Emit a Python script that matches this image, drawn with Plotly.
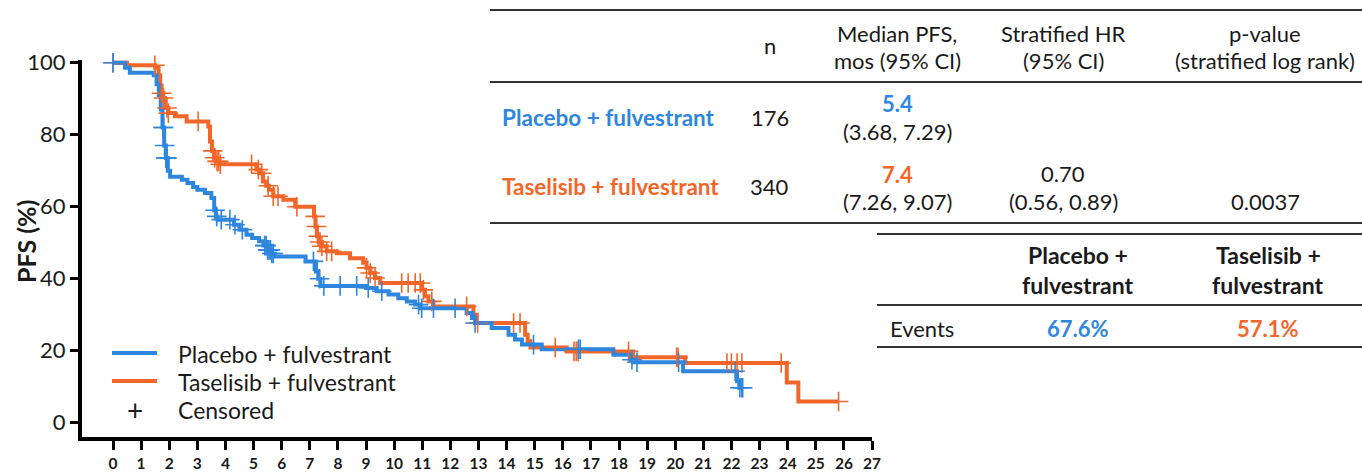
import numpy as np
import plotly.graph_objects as go

# ---------------- data ----------------
placebo_time = [0, 0.43, 0.6, 1.45, 1.55, 1.63, 1.7, 1.76, 1.82, 1.88, 1.95, 2.03, 2.45, 2.65,
                2.85, 3.0, 3.27, 3.5, 3.6, 3.66, 3.72, 4.3, 4.5, 4.75, 4.95, 5.2, 5.35, 5.5,
                5.62, 5.75, 6.85, 7.22, 7.3, 7.38, 9.0, 9.38, 9.8, 10.15, 10.45, 10.75, 10.93,
                12.58, 12.77, 12.88, 13.47, 14.07, 14.3, 14.55, 15.25, 17.8, 18.4, 18.5, 20.28,
                22.2, 22.28]
placebo_surv = [100, 98.6, 97.2, 96.5, 94, 91, 87, 82, 77, 73.5, 70, 68.3, 67.5, 66.6,
                65.5, 64.7, 63.8, 62.4, 59, 57.3, 56.4, 55, 53.6, 52.2, 51.3, 50.4, 49.2, 48,
                47, 46.2, 44.8, 42, 40, 38, 37.4, 36.5, 35.6, 34.6, 33.7, 32.8, 31.8,
                30.5, 29.1, 27.7, 26.3, 24.4, 23.1, 21.7, 20.4, 18.9, 17.5, 16.8, 14.3,
                11.5, 9.7]
placebo_censor = [0.0, 1.78, 1.8, 1.84, 1.88, 1.92, 3.63, 3.69, 3.85, 4.16, 4.34, 4.6, 5.4,
                  5.45, 5.5, 5.55, 5.6, 5.65, 5.7, 7.13, 7.35, 7.5, 8.08, 8.67, 9.08, 9.56,
                  10.87, 10.98, 11.4, 12.17, 12.88, 14.96, 16.56, 16.62, 18.46, 18.64, 20.12,
                  22.13, 22.3, 22.37, 22.4]

tas_time = [0, 0.5, 1.5, 1.62, 1.68, 1.73, 1.79, 1.85, 1.97, 2.2, 2.62, 3.39, 3.45, 3.52, 3.6,
            3.69, 3.8, 5.1, 5.2, 5.34, 5.45, 5.55, 5.7, 6.06, 6.48, 7.15, 7.2, 7.25, 7.32,
            7.43, 7.6, 7.96, 8.43, 8.9, 9.02, 9.15, 9.32, 9.5, 10.98, 11.1, 11.22, 11.4,
            12.82, 12.94, 14.66, 14.75, 14.85, 16.14, 18.5, 20.36, 23.97, 24.38]
tas_surv = [100, 99.3, 98.6, 96.5, 93.6, 91.5, 90.2, 87.4, 86, 85.1, 83.7, 82.3, 78.1, 75.5, 73.6,
            72.6, 71.8, 70.3, 69.3, 67, 65.8, 64.7, 62.9, 61.9, 60, 57.3, 54.5, 51.8, 50.2,
            49, 47.6, 47.1, 45.7, 44.4, 43, 41.6, 40.2, 38.8, 36.9, 35.1, 33.7, 32.3,
            30, 27.7, 24.4, 22.6, 20.9, 19.8, 18.2, 16.6, 11.2, 5.9]
tas_censor = [0.0, 1.49, 1.73, 1.8, 1.92, 1.97, 3.03, 3.55, 3.62, 3.7, 3.76, 3.82, 4.93, 5.17,
              5.29, 5.52, 5.7, 5.87, 6.54, 7.19, 7.24, 7.3, 7.36, 7.43, 7.6, 7.78, 9.02, 9.15,
              9.32, 10.27, 10.5, 10.75, 10.93, 11.04, 11.34, 12.58, 12.97, 14.25, 14.48, 15.73,
              16.4, 16.48, 16.55, 18.34, 20.05, 20.1, 21.84, 22.0, 22.2, 22.37, 23.77, 25.81]

arm_names = ["Placebo + fulvestrant", "Taselisib + fulvestrant"]
x_ticks = list(range(0, 28))
y_ticks = [0, 20, 40, 60, 80, 100]

header_cols = [["n"], ["Median PFS,", "mos (95% CI)"], ["Stratified HR", "(95% CI)"],
               ["p-value", "(stratified log rank)"]]
n_values = ["176", "340"]
median_values = ["5.4", "7.4"]
median_ci = ["(3.68, 7.29)", "(7.26, 9.07)"]
hr_value = "0.70"
hr_ci = "(0.56, 0.89)"
p_value = "0.0037"
events_label = "Events"
events_cols = [["Placebo +", "fulvestrant"], ["Taselisib +", "fulvestrant"]]
events_values = ["67.6%", "57.1%"]

BLUE = "#2E86DE"
ORANGE = "#F2662A"
TXT = "#1a1a1a"
FONT = "Lato"
W, H = 1362, 472


def step_at(times, surv, t):
    idx = np.searchsorted(np.array(times), np.array(t), side="right") - 1
    return np.array(surv)[idx]


def px(x):
    return x / W


def py(y):
    return 1 - y / H


fig = go.Figure()

arms = [
    (tas_time, tas_surv, tas_censor, ORANGE, arm_names[1]),
    (placebo_time, placebo_surv, placebo_censor, BLUE, arm_names[0]),
]
for times, surv, cens, color, name in arms:
    xs = list(times) + [max(cens)]
    ys = list(surv) + [surv[-1]]
    fig.add_trace(go.Scatter(x=xs, y=ys, mode="lines", line=dict(color=color, width=4, shape="hv"),
                             name=name, showlegend=False, hoverinfo="skip"))

for times, surv, cens, color, name in arms:
    fig.add_trace(go.Scatter(x=cens, y=step_at(times, surv, cens), mode="markers",
                             marker=dict(symbol="cross-thin", size=14,
                                         line=dict(color=color, width=1.6)),
                             cliponaxis=False, showlegend=False, name=name + " censored"))

x0_px, x27_px = 113, 872
left_px = 82
scale = (x27_px - x0_px) / 27
x_lo = (left_px - x0_px) / scale
y100_px, y0_px = 62.7, 422.7
yscale = (y0_px - y100_px) / 100
bot_px, top_px = 437, 59.5
y_lo = -(bot_px - y0_px) / yscale
y_hi = 100 + (y100_px - top_px) / yscale

fig.update_layout(
    width=W, height=H,
    margin=dict(l=0, r=0, t=0, b=0, autoexpand=False),
    paper_bgcolor="white", plot_bgcolor="white",
    font=dict(family=FONT, color=TXT),
    xaxis=dict(domain=[px(left_px), px(x27_px)], range=[x_lo, 27], showgrid=False, zeroline=False,
               automargin=False,
               showline=True, linewidth=4, linecolor="black", ticks="outside", ticklen=9,
               tickwidth=3, tickcolor="black", tickvals=x_ticks, ticktext=[str(v) for v in x_ticks],
               tickfont=dict(family=FONT, size=15.5, color=TXT, weight="bold"),
               ticklabelstandoff=0),
    yaxis=dict(domain=[py(bot_px), py(top_px)], range=[y_lo, y_hi], showgrid=False, zeroline=False,
               automargin=False,
               showline=True, linewidth=4, linecolor="black", ticks="outside", ticklen=8,
               tickwidth=3, tickcolor="black", tickvals=y_ticks, ticktext=[str(v) for v in y_ticks],
               tickfont=dict(family=FONT, size=22, color=TXT)),
    showlegend=False,
)

ann = []


def text(x, y, s, size=22, color=TXT, bold=False, xanchor="center"):
    ann.append(dict(x=px(x), y=py(y), xref="paper", yref="paper", text=s, showarrow=False,
                    xanchor=xanchor, yanchor="middle",
                    font=dict(family=FONT, size=size, color=color,
                              weight="bold" if bold else "normal")))


# y-axis title
ann.append(dict(x=px(26), y=py(242), xref="paper", yref="paper", text="<b>PFS (%)</b>",
                showarrow=False, textangle=-90, xanchor="center", yanchor="middle",
                font=dict(family=FONT, size=25, color=TXT)))

# legend
shapes = []
for yy, color, name in [(353, BLUE, arm_names[0]), (381, ORANGE, arm_names[1])]:
    shapes.append(dict(type="line", xref="paper", yref="paper", x0=px(112), x1=px(157),
                       y0=py(yy), y1=py(yy), line=dict(color=color, width=4)))
    text(176, yy + 1, name, size=23, xanchor="left")
text(135, 410, "+", size=28)
text(176, 410, "Censored", size=23, xanchor="left")

# table 1
FS = 22
col_x = [770, 897, 1063, 1265]
for cx, h in zip(col_x, header_cols):
    if len(h) == 1:
        text(cx, 46, h[0], size=FS)
    else:
        text(cx, 33, h[0], size=FS)
        text(cx, 60, h[1], size=FS)
row_y = [117, 187]
colors = [BLUE, ORANGE]
for i in range(2):
    text(500, row_y[i], arm_names[i], size=22.5, color=colors[i], bold=True, xanchor="left")
    text(col_x[0], row_y[i], n_values[i], size=FS)
    text(col_x[1], row_y[i] - 13, median_values[i], size=FS, color=colors[i], bold=True)
    text(col_x[1], row_y[i] + 14, median_ci[i], size=FS)
text(col_x[2], 173, hr_value, size=FS)
text(col_x[2], 201, hr_ci, size=FS)
text(col_x[3], 201, p_value, size=FS)

for yy in [10, 82, 223]:
    shapes.append(dict(type="line", xref="paper", yref="paper", x0=px(490), x1=px(1362),
                       y0=py(yy), y1=py(yy), line=dict(color="#333333", width=2)))

# table 2
ev_x = [1078, 1268]
for i in range(2):
    text(ev_x[i], 255, events_cols[i][0], size=23, bold=True)
    text(ev_x[i], 285, events_cols[i][1], size=23, bold=True)
    text(ev_x[i], 328, events_values[i], size=22, color=colors[i], bold=True)
text(888, 328, events_label, size=FS, xanchor="left")
for yy in [234, 305, 347]:
    shapes.append(dict(type="line", xref="paper", yref="paper", x0=px(877), x1=px(1362),
                       y0=py(yy), y1=py(yy), line=dict(color="#333333", width=2)))

fig.update_layout(annotations=ann, shapes=shapes)
fig.write_html("out.html", config={"displayModeBar": False},
               post_script="document.body.style.margin='0px';document.body.style.overflow='hidden';")
